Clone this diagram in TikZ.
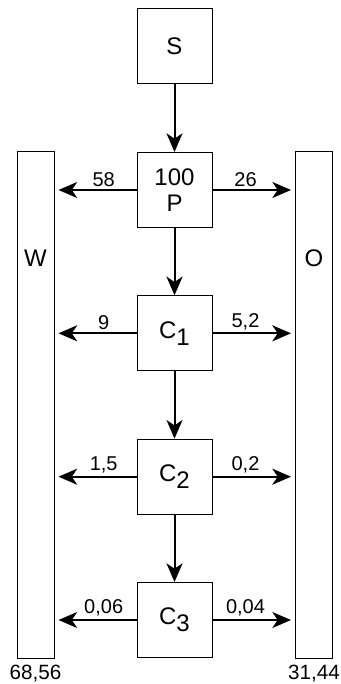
\documentclass[tikz,border=0pt]{standalone}
\usepackage{fontspec}
\setmainfont{Liberation Sans}
\usetikzlibrary{arrows.meta}
\newcommand{\idx}[1]{\raisebox{-5.5pt}{#1}}
\begin{document}
\begin{tikzpicture}[x=0.75pt,y=-0.75pt,
  box/.style={draw,line width=0.75pt,minimum size=56.25pt,inner sep=0pt,align=center,font=\fontsize{18}{19}\selectfont},
  bar/.style={draw,line width=0.75pt,minimum width=27.75pt,minimum height=379.5pt,inner sep=0pt},
  flow/.style={line width=1.5pt,-{Stealth[length=14pt,width=12pt,inset=4pt]}},
  num/.style={font=\fontsize{15}{17}\selectfont,inner sep=2pt},
  sum/.style={font=\fontsize{15.5}{17}\selectfont,anchor=north,inner sep=0pt,yshift=-4.5pt}]
\useasboundingbox (0,0) rectangle (340,684);
\node[box] (s) at (174.5,46.5) {S};
\node[box] (p) at (174.5,190) {100\\P};
\node[box] (c1) at (174.5,333.3) {C\idx{1}};
\node[box] (c2) at (174.5,476.7) {C\idx{2}};
\node[box] (c3) at (174.5,620) {C\idx{3}};
\node[bar] (w) at (35.5,405) {};
\node[bar] (o) at (314,405) {};
\node[font=\fontsize{18}{21}\selectfont] (wname) at (35.5,258) {W};
\node[font=\fontsize{18}{21}\selectfont] (oname) at (314,258) {O};
\node[sum] (wsum) at (w.south) {68,56};
\node[sum] (osum) at (o.south) {31,44};
\draw[flow] (s) -- (p);
\draw[flow] (p) -- (c1);
\draw[flow] (c1) -- (c2);
\draw[flow] (c2) -- (c3);
\draw[flow,shorten >=3pt] (p.west) -- (w.east |- p.west) node[num,pos=0.4,above] {58};
\draw[flow,shorten >=3pt] (p.east) -- (o.west |- p.east) node[num,pos=0.4,above] {26};
\draw[flow,shorten >=3pt] (c1.west) -- (w.east |- c1.west) node[num,pos=0.4,above] {9};
\draw[flow,shorten >=3pt] (c1.east) -- (o.west |- c1.east) node[num,pos=0.4,above] {5,2};
\draw[flow,shorten >=3pt] (c2.west) -- (w.east |- c2.west) node[num,pos=0.4,above] {1,5};
\draw[flow,shorten >=3pt] (c2.east) -- (o.west |- c2.east) node[num,pos=0.4,above] {0,2};
\draw[flow,shorten >=3pt] (c3.west) -- (w.east |- c3.west) node[num,pos=0.4,above] {0,06};
\draw[flow,shorten >=3pt] (c3.east) -- (o.west |- c3.east) node[num,pos=0.4,above] {0,04};
\end{tikzpicture}
\end{document}
